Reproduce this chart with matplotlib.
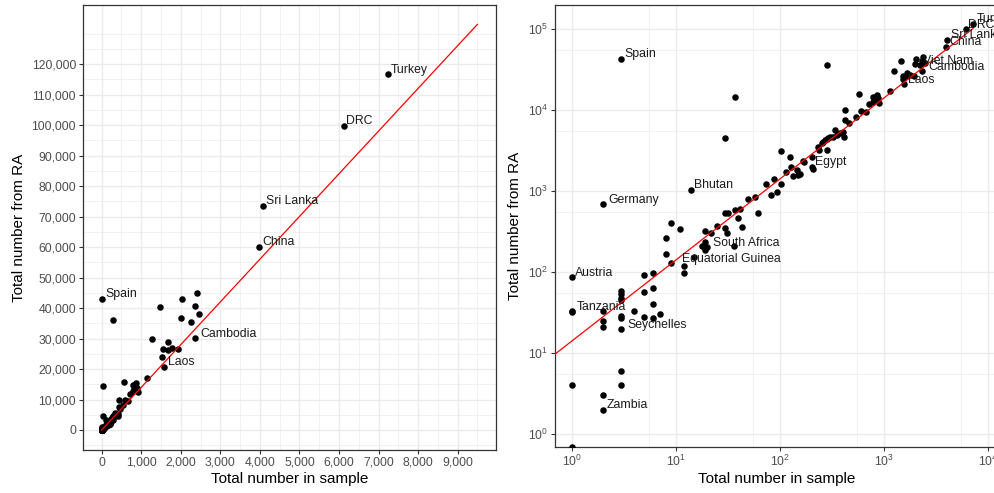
import numpy as np
import matplotlib
matplotlib.use("Agg")
import matplotlib.pyplot as plt
from matplotlib.ticker import FuncFormatter, FixedLocator, LogFormatterSciNotation
from matplotlib.transforms import blended_transform_factory

plt.rcParams['font.family'] = ['Liberation Sans', 'DejaVu Sans']
plt.rcParams['mathtext.fontset'] = 'custom'
plt.rcParams['mathtext.rm'] = 'Liberation Sans'
plt.rcParams['mathtext.it'] = 'Liberation Sans:italic'

# labelled countries: (name, total in sample, total from RA)
label_names = ["Turkey", "DRC", "Sri Lanka", "China", "Spain", "Cambodia", "Laos",
               "Viet Nam", "Egypt", "Bhutan", "Germany", "South Africa",
               "Equatorial Guinea", "Austria", "Tanzania", "Seychelles", "Zambia"]
label_sample = [7230, 6120, 4070, 3980, 3, 2350, 1580,
                2250, 204, 14, 2, 20,
                9, 1, 1, 3, 2]
label_ra = [116700, 99800, 73600, 60100, 43000, 30100, 20800,
            35500, 1995, 1030, 700, 205,
            128, 86, 33, 20, 2]

# all the other countries
other_sample = [1, 1, 1, 2, 2, 2, 2, 3, 3, 3, 3, 3, 3, 3, 3, 4, 5, 5, 5, 6, 6, 6, 6, 7,
                8, 8, 9, 11, 12, 12, 15, 18, 19, 19, 19, 19, 22, 25, 30, 31, 30, 32,
                37, 40, 42, 43, 36, 30, 37, 285, 50, 58, 62, 74, 83, 94, 88, 103, 103,
                115, 125, 129, 135, 146, 151, 157, 166, 172, 204, 210, 235, 240, 253,
                263, 273, 283, 294, 288, 305, 324, 340, 353, 380, 409, 415, 428, 428,
                467, 542, 600, 676, 575, 727, 784, 826, 857, 889, 908, 784, 1140, 1264,
                1466, 1517, 1542, 1677, 1685, 1786, 1938, 2005, 2039, 2359, 2410, 2469]
other_ra = [32, 4, 0, 33, 25, 21, 3, 58, 53, 48, 45, 29, 27, 6, 4, 33, 92, 56, 28, 97,
            63, 40, 27, 30, 167, 265, 400, 340, 120, 96, 155, 210, 233, 196, 187, 320,
            300, 370, 350, 300, 540, 530, 590, 470, 600, 360, 210, 4450, 14500, 36200,
            790, 850, 530, 1220, 900, 960, 1390, 1220, 3150, 1730, 2650, 2000, 1530,
            1820, 1590, 1600, 2330, 2280, 2610, 1880, 3520, 3210, 3880, 4070, 4270,
            4350, 4480, 3210, 4600, 4690, 5660, 4920, 5250, 5400, 4690, 10000, 7530,
            6840, 8280, 9700, 9530, 15600, 11900, 14600, 13300, 15300, 13900, 12300,
            12700, 17200, 29940, 40330, 24040, 26460, 26230, 28860, 26890, 26460,
            36830, 43050, 40660, 45020, 38130]

fit_slope = 14.0
fit_x_lin = [0, 9500]
fit_x_log = [0.5, 7230]

left_labels = ["Turkey", "DRC", "Sri Lanka", "China", "Spain", "Cambodia", "Laos"]
right_labels = ["Spain", "Germany", "Bhutan", "South Africa", "Equatorial Guinea",
                "Austria", "Tanzania", "Seychelles", "Zambia", "Egypt", "Laos",
                "Cambodia", "Viet Nam", "China", "Sri Lanka", "DRC", "Turkey"]
# label offsets in pixels (dx, dy)
offsets = {"Cambodia": (6, 1.5), "Equatorial Guinea": (11, 1), "South Africa": (6, 1),
           "Seychelles": (6, 1), "Tanzania": (5, 1), "Germany": (5, 1), "DRC": (2.5, 1.5),
           "Viet Nam": (3, 1.5)}

x_all = np.array(label_sample + other_sample, dtype=float)
y_all = np.array(label_ra + other_ra, dtype=float)

W, H = 994, 493
fig = plt.figure(figsize=(W / 100, H / 100), dpi=100)
ax1 = fig.add_axes([83 / W, 1 - 450 / H, 413 / W, 445 / H])
ax2 = fig.add_axes([555 / W, 1 - 447 / H, 443 / W, 442 / H])

grid_col = '#EBEBEB'
tick_col = '#4D4D4D'
for ax in (ax1, ax2):
    ax.set_axisbelow(True)
    for s in ax.spines.values():
        s.set_color('#333333')
        s.set_linewidth(0.9)
    ax.tick_params(which='major', length=3, width=0.8, color='#333333',
                   labelsize=8.8, labelcolor=tick_col, pad=2)
    ax.tick_params(which='minor', length=0)
    ax.grid(True, which='major', color=grid_col, linewidth=1.0)
    ax.grid(True, which='minor', color=grid_col, linewidth=0.5)

# linear panel
ax1.scatter(x_all, y_all, s=22, color='black', linewidths=0, zorder=3)
ax1.plot(fit_x_lin, [fit_slope * v for v in fit_x_lin], color='red', lw=0.9, zorder=4)
ax1.set_xlim(-473, 9970)
ax1.set_ylim(-6558, 139350)
ax1.set_xticks(np.arange(0, 9001, 1000))
ax1.set_yticks(np.arange(0, 120001, 10000))
ax1.xaxis.set_minor_locator(FixedLocator(np.arange(-500, 10001, 500)))
ax1.yaxis.set_minor_locator(FixedLocator(np.arange(-5000, 130001, 5000)))
fmt = FuncFormatter(lambda v, p: f"{v:,.0f}")
ax1.xaxis.set_major_formatter(fmt)
ax1.yaxis.set_major_formatter(fmt)
ax1.set_xlabel("Total number in sample", fontsize=11, labelpad=2)
ax1.set_ylabel("Total number from RA", fontsize=11, labelpad=4)

for name in left_labels:
    i = label_names.index(name)
    dx, dy = offsets.get(name, (3.5, 1.5))
    ax1.annotate(name, (label_sample[i], label_ra[i]), xytext=(dx, dy),
                 textcoords='offset pixels', fontsize=8.8, color='#1A1A1A',
                 ha='left', va='baseline', zorder=5)

# log panel
pos = y_all > 0
ax2.scatter(x_all[pos], y_all[pos], s=22, color='black', linewidths=0, zorder=3)
# zero counts sit on the lower border
trans = blended_transform_factory(ax2.transData, ax2.transAxes)
ax2.scatter(x_all[~pos], np.zeros((~pos).sum()), s=22, color='black', linewidths=0,
            zorder=3, transform=trans)
ax2.plot(fit_x_log, [fit_slope * v for v in fit_x_log], color='red', lw=0.9, zorder=4)
ax2.set_xscale('log')
ax2.set_yscale('log')
ax2.set_xlim(10 ** -0.16, 10 ** 4.099)
ax2.set_ylim(10 ** -0.16, 10 ** 5.296)
ax2.xaxis.set_major_locator(FixedLocator([1, 10, 100, 1000, 10000]))
ax2.yaxis.set_major_locator(FixedLocator([1, 10, 100, 1000, 10000, 100000]))
ax2.xaxis.set_minor_locator(FixedLocator([5.5, 55, 550, 5500]))
ax2.yaxis.set_minor_locator(FixedLocator([5.5, 55, 550, 5500, 55000]))
ax2.xaxis.set_major_formatter(LogFormatterSciNotation())
ax2.yaxis.set_major_formatter(LogFormatterSciNotation())
ax2.set_xlabel("Total number in sample", fontsize=11, labelpad=2)
ax2.set_ylabel("Total number from RA", fontsize=11, labelpad=4)

for name in right_labels:
    i = label_names.index(name)
    dx, dy = offsets.get(name, (3.5, 1.5))
    ax2.annotate(name, (label_sample[i], label_ra[i]), xytext=(dx, dy),
                 textcoords='offset pixels', fontsize=8.8, color='#1A1A1A',
                 ha='left', va='baseline', zorder=5)

fig.savefig("out.png", dpi=100)
